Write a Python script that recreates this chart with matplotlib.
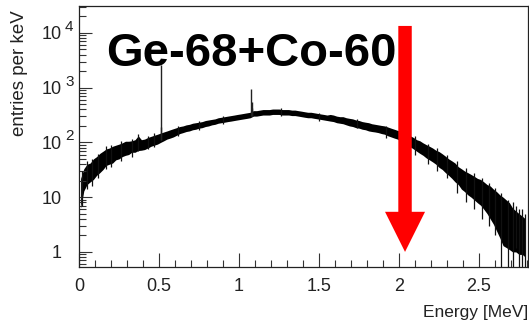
import numpy as np
import matplotlib
matplotlib.use("Agg")
import matplotlib.pyplot as plt
from matplotlib.ticker import MultipleLocator, LogLocator, NullFormatter, FixedLocator
from matplotlib.patches import Polygon
from matplotlib import transforms

# ---------------- data ----------------
bin_width = 0.02  # MeV
n_bins = 140
# lower / upper envelope of the noisy spectrum band (entries per keV)
band_lo = [6.3, 13, 17, 19, 21, 25, 28, 32, 38, 40,
           42, 48, 50, 55, 58, 60, 66, 66, 71, 72,
           74, 79, 85, 89, 93, 100, 107, 115, 120, 126,
           135, 145, 151, 158, 162, 170, 174, 182, 186, 195,
           200, 209, 214, 224, 229, 234, 240, 245, 251, 257,
           263, 269, 275, 282, 302, 302, 309, 316, 316, 316,
           324, 324, 324, 316, 316, 316, 309, 309, 302, 295,
           288, 282, 282, 275, 269, 263, 257, 251, 245, 240,
           229, 224, 219, 209, 200, 195, 186, 182, 174, 170,
           162, 158, 155, 151, 145, 141, 132, 126, 120, 115,
           105, 98, 89, 83, 76, 69, 63, 58, 52, 48,
           44, 40, 35, 32, 28, 25, 22, 19, 17, 14,
           12.6, 11, 10, 8.9, 7.9, 7.1, 6.0, 5.0, 4.0, 3.2,
           2.4, 1.8, 1.3, 1.2, 1.1, 1.0, 1.0, 0.9, 0.9, 0.8]
band_hi = [22, 33, 40, 42, 50, 55, 63, 69, 76, 79,
           85, 89, 93, 98, 105, 105, 107, 112, 132, 112,
           115, 123, 129, 135, 141, 148, 155, 162, 170, 178,
           186, 195, 200, 209, 214, 224, 229, 234, 240, 251,
           257, 263, 269, 282, 288, 295, 302, 309, 316, 324,
           331, 339, 347, 355, 380, 380, 389, 398, 398, 398,
           407, 407, 407, 398, 398, 398, 389, 389, 380, 372,
           363, 355, 355, 347, 339, 331, 324, 316, 324, 316,
           302, 295, 295, 282, 275, 269, 257, 251, 240, 234,
           229, 219, 214, 209, 204, 200, 191, 182, 174, 166,
           158, 148, 138, 132, 123, 112, 107, 98, 91, 85,
           79, 72, 68, 62, 56, 50, 46, 42, 36, 33,
           30, 28, 26, 24, 22, 21, 19, 17, 16, 14,
           12.6, 11, 10, 8.9, 7.9, 6.3, 5.6, 5.0, 4.5, 4.0]

# single-bin fluctuations sticking out of the band
spike_E = [0.02, 0.05, 0.08, 0.12, 0.17, 0.20, 0.26, 0.33, 0.37, 0.43, 0.47,
           0.62, 0.75, 0.90, 1.26, 1.50, 1.74,
           1.92, 2.02, 2.10, 2.18, 2.24, 2.30, 2.36, 2.42, 2.47, 2.52,
           2.56, 2.60, 2.64, 2.68, 2.71, 2.73, 2.75, 2.77, 2.79]
spike_lo = [7, 14, 16, 22, 32, 36, 45, 55, 70, 75, 82,
            130, 165, 220, 300, 250, 180,
            120, 90, 60, 40, 30, 22, 12, 8, 6, 4,
            3, 2, 0.5, 0.5, 0.5, 1.2, 0.5, 0.5, 0.5]
spike_hi = [30, 45, 50, 62, 85, 90, 105, 115, 140, 130, 150,
            200, 250, 300, 430, 350, 270,
            200, 160, 130, 95, 80, 60, 45, 34, 28, 22,
            18, 15, 12, 9, 8, 7, 6, 6, 5]

# narrow photopeaks (energy in MeV, base and top in entries per keV)
peak_E = [0.511, 0.514, 1.077, 1.080, 1.083]
peak_base = [110, 110, 300, 300, 300]
peak_top = [2600, 190, 950, 550, 420]

arrow_E = 2.0375
title = "Ge-68+Co-60"
x_ticks = [0, 0.5, 1, 1.5, 2, 2.5]
x_ticklabels = ["0", "0.5", "1", "1.5", "2", "2.5"]
y_ticks = [1, 10, 100, 1000, 10000]
y_base = ["1", "10", "10", "10", "10"]
y_exp = ["", "", "2", "3", "4"]

# ---------------- figure ----------------
plt.rcParams["font.family"] = ["Liberation Sans", "DejaVu Sans"]
fig = plt.figure(figsize=(5.29, 3.24), dpi=100)
ax = fig.add_axes([79 / 529, 57 / 324, 449 / 529, 261 / 324])

centers = (np.arange(n_bins) + 0.5) * bin_width
ax.fill_between(centers, band_lo, band_hi, color="black", lw=0)
ax.vlines(spike_E, spike_lo, spike_hi, color="#111111", lw=0.9)
ax.vlines(peak_E, peak_base, peak_top, color="#222222", lw=1.0)

ax.set_yscale("log")
ax.set_xlim(0, 2.806)
ax.set_ylim(0.53, 31000)

# ticks (ROOT style, inward)
ax.set_xticks(x_ticks)
ax.set_xticklabels(x_ticklabels, fontsize=13, color="#222222")
ax.xaxis.set_minor_locator(MultipleLocator(0.1))
ax.tick_params(axis="x", which="major", direction="in", length=10, width=0.8,
               pad=8, top=False, color="#333333")
ax.tick_params(axis="x", which="minor", direction="in", length=5, width=0.8,
               top=False, color="#333333")
ax.yaxis.set_major_locator(FixedLocator(y_ticks))
ax.yaxis.set_minor_locator(LogLocator(base=10, subs=np.arange(2, 10)))
ax.yaxis.set_minor_formatter(NullFormatter())
ax.set_yticklabels([])
ax.tick_params(axis="y", which="major", direction="in", length=9, width=0.8,
               right=False, color="#333333")
ax.tick_params(axis="y", which="minor", direction="in", length=5, width=0.8,
               right=False, color="#333333")

# y tick labels drawn as base + exponent
bt = transforms.blended_transform_factory(ax.transAxes, ax.transData)
for v, b, e in zip(y_ticks, y_base, y_exp):
    tb = transforms.offset_copy(bt, fig=fig, x=-17, y=-2, units="dots")
    ax.text(0, v, b, transform=tb, ha="right", va="center", fontsize=13,
            color="#222222")
    if e:
        te = transforms.offset_copy(bt, fig=fig, x=-14, y=6, units="dots")
        ax.text(0, v, e, transform=te, ha="left", va="center", fontsize=11,
                color="#222222")

for s in ax.spines.values():
    s.set_linewidth(0.9)
    s.set_color("#222222")

ax.set_xlabel("Energy [MeV]", loc="right", fontsize=12.5, color="#222222")
ax.xaxis.set_label_coords(1.0, -0.145)
ax.set_ylabel("entries per keV", loc="top", fontsize=13.5, color="#222222")
ax.yaxis.set_label_coords(-0.113, 0.985)

# title text
ax.text(106 / 529, 1 - 66 / 324, title, transform=fig.transFigure,
        fontsize=34, fontweight="bold", ha="left", va="baseline", color="black")

# red arrow
shaft = 0.042
head = 0.125
y_top, y_head, y_tip = 13400, 5.4, 1.0
arrow = Polygon([[arrow_E - shaft, y_top], [arrow_E + shaft, y_top],
                 [arrow_E + shaft, y_head], [arrow_E + head, y_head],
                 [arrow_E, y_tip], [arrow_E - head, y_head],
                 [arrow_E - shaft, y_head]],
                closed=True, facecolor="#ff0000", edgecolor="none",
                clip_on=False, zorder=5)
ax.add_patch(arrow)

fig.savefig("out.png", dpi=100)
